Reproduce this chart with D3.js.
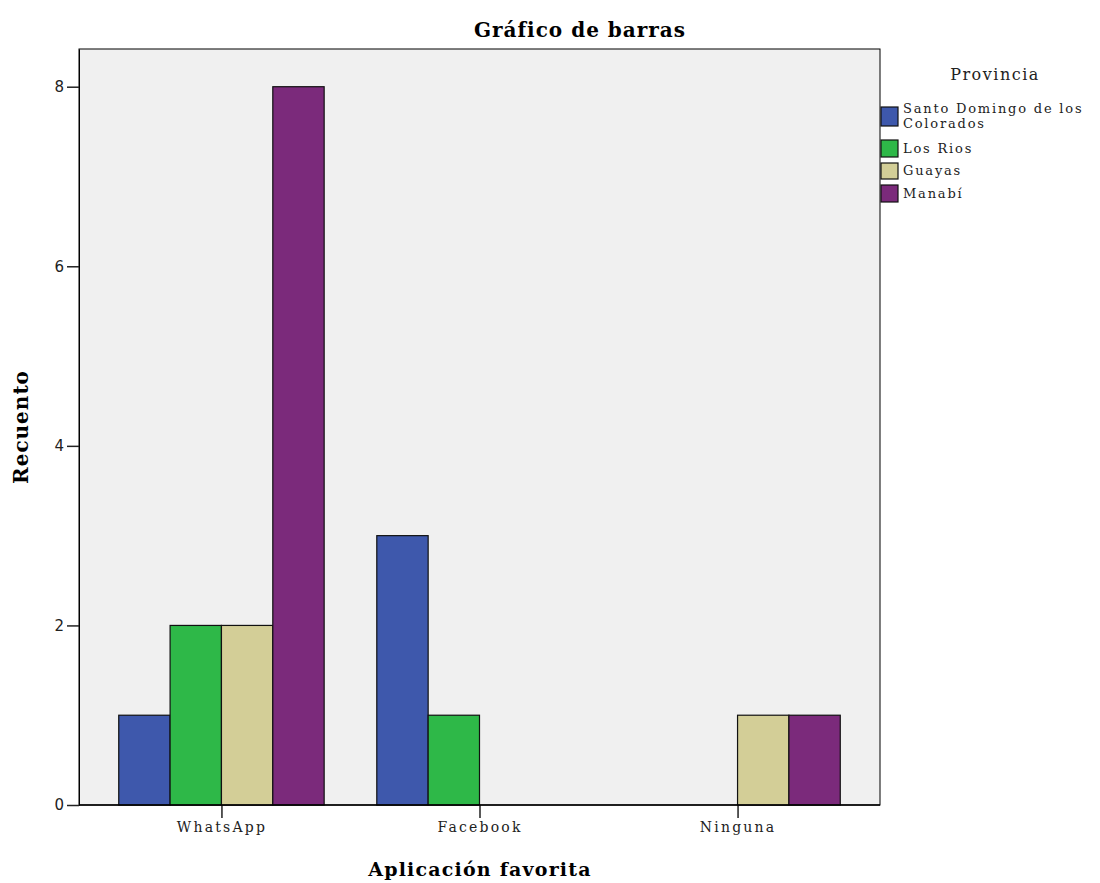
<!DOCTYPE html>
<html>
<head>
<meta charset="utf-8">
<script src="https://cdn.jsdelivr.net/npm/d3@7"></script>
<style>
  html, body { margin: 0; padding: 0; background: #ffffff; }
  svg { display: block; }
</style>
</head>
<body>
<svg id="chart" width="1100" height="883"></svg>
<script>
// ---- data ----
const categories = ["WhatsApp", "Facebook", "Ninguna"];
const provinces = ["Santo Domingo de los Colorados", "Los Rios", "Guayas", "Manabí"];
const santoDomingo = [1, 3, 0];
const losRios = [2, 1, 0];
const guayas = [2, 0, 1];
const manabi = [8, 0, 1];
const yTicks = [0, 2, 4, 6, 8];
const colors = ["#3e58ac", "#2eb848", "#d3ce97", "#7b2a7b"];

const seriesValues = [santoDomingo, losRios, guayas, manabi];

// ---- layout ----
const svg = d3.select("#chart");
const pLeft = 79, pRight = 880, pTop = 49, pBottom = 805;

svg.append("rect")
  .attr("x", pLeft).attr("y", pTop)
  .attr("width", pRight - pLeft).attr("height", pBottom - pTop)
  .attr("fill", "#f0f0f0").attr("stroke", "#000").attr("stroke-width", 1);

const x = d3.scalePoint().domain(categories).range([pLeft, pRight]).padding(0.552);
const step = x.step();
const bw = step * 0.199;
const xs = d3.scaleBand().domain(provinces).range([-2 * bw, 2 * bw]).padding(0);
const y = d3.scaleLinear().domain([0, 8.42]).range([pBottom, pTop]);

// bars
provinces.forEach((p, i) => {
  const vals = seriesValues[i];
  svg.append("g").selectAll("rect")
    .data(categories.map((c, j) => ({ c, v: vals[j] })).filter(d => d.v > 0))
    .join("rect")
    .attr("x", d => x(d.c) + xs(p))
    .attr("y", d => y(d.v))
    .attr("width", xs.bandwidth())
    .attr("height", d => y(0) - y(d.v))
    .attr("fill", colors[i])
    .attr("stroke", "#111")
    .attr("stroke-width", 1.2);
});

// y axis
const yAxis = svg.append("g")
  .attr("transform", `translate(${pLeft},0)`)
  .call(d3.axisLeft(y).tickValues(yTicks).tickSize(12).tickSizeOuter(0).tickPadding(3));
yAxis.select(".domain").attr("stroke", "#000");
yAxis.selectAll(".tick line").attr("stroke", "#222").attr("stroke-width", 1.5);
yAxis.selectAll("text").attr("font-family", "'DejaVu Sans', sans-serif").attr("font-size", 15).attr("fill", "#222");

// x axis
const xAxis = svg.append("g")
  .attr("transform", `translate(0,${pBottom})`)
  .call(d3.axisBottom(x).tickSize(13).tickSizeOuter(0).tickPadding(4));
xAxis.select(".domain").remove();
xAxis.selectAll(".tick line").attr("stroke", "#222").attr("stroke-width", 1.5);
xAxis.selectAll("text").attr("font-family", "'DejaVu Serif', serif").attr("font-size", 14)
  .attr("letter-spacing", 2.2).attr("fill", "#222");
svg.append("line").attr("x1", pLeft).attr("x2", pRight).attr("y1", pBottom).attr("y2", pBottom)
  .attr("stroke", "#000").attr("stroke-width", 1.5);

// titles
svg.append("text").attr("x", 580).attr("y", 37).attr("text-anchor", "middle")
  .attr("font-family", "'DejaVu Serif', serif").attr("font-weight", "bold").attr("font-size", 20)
  .attr("letter-spacing", 1).text("Gráfico de barras");
svg.append("text").attr("x", 480).attr("y", 876).attr("text-anchor", "middle")
  .attr("font-family", "'DejaVu Serif', serif").attr("font-weight", "bold").attr("font-size", 19)
  .attr("letter-spacing", 1.2).text("Aplicación favorita");
svg.append("text").attr("transform", "translate(28,427) rotate(-90)").attr("text-anchor", "middle")
  .attr("font-family", "'DejaVu Serif', serif").attr("font-weight", "bold").attr("font-size", 20)
  .attr("letter-spacing", 1).text("Recuento");

// legend
const lg = svg.append("g");
lg.append("text").attr("x", 995).attr("y", 80).attr("text-anchor", "middle")
  .attr("font-family", "'DejaVu Serif', serif").attr("font-size", 16).attr("letter-spacing", 1.5)
  .attr("fill", "#222").text("Provincia");
const legendRows = [
  { y0: 107, h: 19, lines: ["Santo Domingo de los", "Colorados"] },
  { y0: 140, h: 17, lines: ["Los Rios"] },
  { y0: 163, h: 16, lines: ["Guayas"] },
  { y0: 185, h: 17, lines: ["Manabí"] }
];
legendRows.forEach((r, i) => {
  lg.append("rect").attr("x", 881).attr("y", r.y0).attr("width", 17).attr("height", r.h)
    .attr("fill", colors[i]).attr("stroke", "#111").attr("stroke-width", 1.2);
  const cy = r.y0 + r.h / 2;
  const n = r.lines.length;
  r.lines.forEach((t, k) => {
    lg.append("text").attr("x", 903).attr("y", cy + (k - (n - 1) / 2) * 14.5 + 4)
      .attr("font-family", "'DejaVu Serif', serif").attr("font-size", 13).attr("letter-spacing", 1.8)
      .attr("fill", "#222").text(t);
  });
});
</script>
</body>
</html>
